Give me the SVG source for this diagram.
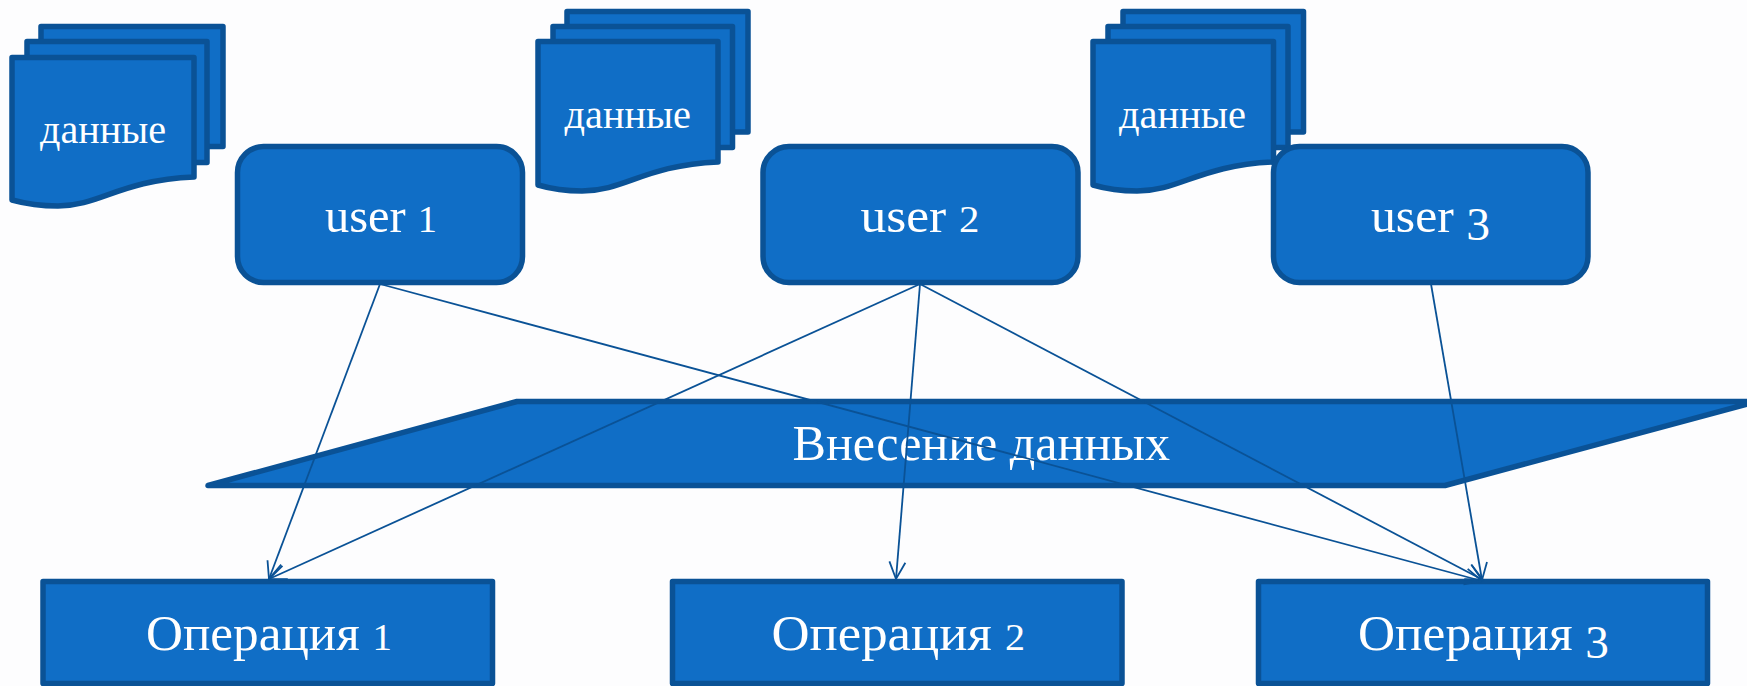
<svg xmlns="http://www.w3.org/2000/svg" width="1747" height="686" viewBox="0 0 1747 686">
<style>
.s{fill:#106ec6;stroke:#0a5296;stroke-width:5.500;stroke-linejoin:round}
.t{fill:#fff;font-family:"Liberation Serif",serif;text-anchor:start}
.doc{font-size:41px}
.usr{font-size:48px}
.op{font-size:50px}
.n{font-size:38px}
.d3{font-size:46px}
.c{fill:none;stroke:#0a5296;stroke-width:1.800;marker-end:url(#a)}
</style>
<defs>
<marker id="a" markerUnits="userSpaceOnUse" markerWidth="22" markerHeight="26" refX="18" refY="13" orient="auto">
<path d="M1,5L18,13L1,21" fill="none" stroke="#0a5296" stroke-width="1.800"/>
</marker>
</defs>
<rect width="1747" height="686" fill="#fdfdfe"/>
<g id="doc1">
<rect class="s" x="41" y="26.500" width="182" height="120"/>
<rect class="s" x="27" y="41.500" width="180" height="121"/>
<path class="s" d="M12,57.500H194V177C120,180 100,206 58,206C45,206 30,205 12,200Z"/>
<text class="t doc" x="40" y="143" textLength="126" lengthAdjust="spacingAndGlyphs">данные</text>
</g>
<g id="doc2">
<rect class="s" x="567" y="11.500" width="181" height="120.500"/>
<rect class="s" x="553" y="26.500" width="179.500" height="121"/>
<path class="s" d="M538,41.500H718V162C645,165 625,191 582,191C570,191 555,190 538,185Z"/>
<text class="t doc" x="564.500" y="127.500" textLength="126.500" lengthAdjust="spacingAndGlyphs">данные</text>
</g>
<g id="doc3">
<rect class="s" x="1123" y="11.500" width="180.500" height="120.500"/>
<rect class="s" x="1108" y="26.500" width="180" height="121"/>
<path class="s" d="M1093,41.500H1273.500V162C1200,165 1180,191 1137,191C1125,191 1110,190 1093,185Z"/>
<text class="t doc" x="1119" y="127.500" textLength="127" lengthAdjust="spacingAndGlyphs">данные</text>
</g>
<g id="user1">
<rect class="s" x="237.500" y="146.500" width="285" height="136" rx="26"/>
<text class="t usr" x="325" y="232" textLength="112" lengthAdjust="spacingAndGlyphs">user <tspan class="n">1</tspan></text>
</g>
<g id="user2">
<rect class="s" x="763" y="146.500" width="315" height="136" rx="26"/>
<text class="t usr" x="860.500" y="232" textLength="119" lengthAdjust="spacingAndGlyphs">user <tspan class="n">2</tspan></text>
</g>
<g id="user3">
<rect class="s" x="1273.500" y="146.500" width="314.500" height="136" rx="26"/>
<text class="t usr" x="1371" y="232" textLength="119" lengthAdjust="spacingAndGlyphs">user <tspan class="d3" dy="8">3</tspan></text>
</g>
<g id="input">
<path class="s" d="M208,485.500L517,401.500H1757L1445,485.500Z"/>
<text class="t op" x="792.500" y="460" textLength="377.500" lengthAdjust="spacingAndGlyphs">Внесение данных</text>
</g>
<g id="op1">
<rect class="s" x="43" y="581.500" width="449.500" height="102"/>
<text class="t op" x="146" y="649.500" textLength="246" lengthAdjust="spacingAndGlyphs">Операция <tspan class="n">1</tspan></text>
</g>
<g id="op2">
<rect class="s" x="672.500" y="581.500" width="449.500" height="102"/>
<text class="t op" x="771.500" y="649.500" textLength="253.500" lengthAdjust="spacingAndGlyphs">Операция <tspan class="n">2</tspan></text>
</g>
<g id="op3">
<rect class="s" x="1258.500" y="581.500" width="449" height="102"/>
<text class="t op" x="1358" y="649.500" textLength="251" lengthAdjust="spacingAndGlyphs">Операция <tspan class="d3" dy="8">3</tspan></text>
</g>
<g id="connectors">
<line class="c" x1="380" y1="284" x2="269" y2="579"/>
<line class="c" x1="380" y1="284" x2="1482" y2="581"/>
<line class="c" x1="920" y1="284" x2="269" y2="579"/>
<line class="c" x1="920" y1="284" x2="896" y2="579"/>
<line class="c" x1="920" y1="284" x2="1483" y2="580"/>
<line class="c" x1="1431" y1="284" x2="1482" y2="580"/>
</g>
</svg>
